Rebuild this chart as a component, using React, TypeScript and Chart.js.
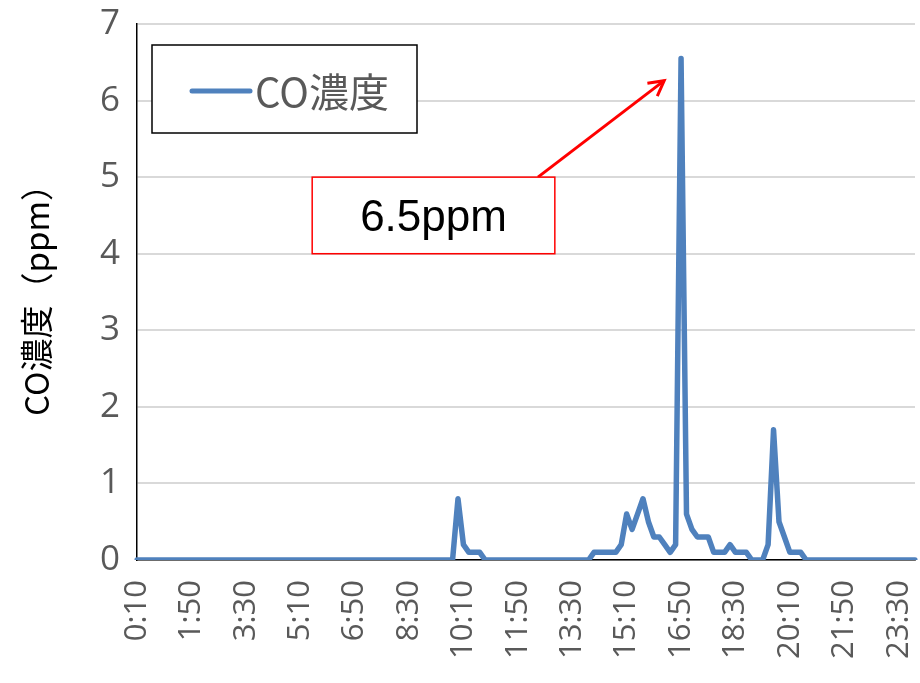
import React, { useEffect, useRef } from 'react';
import { Chart, registerables } from 'chart.js';

Chart.register(...registerables);

const seriesLabel = 'CO濃度';
const yAxisTitle = 'CO濃度（ppm）';
const annotationText = '6.5ppm';

// 10-minute readings, 0:10 .. 24:00 (144 points)
const coValues: number[] = [
  0, 0, 0, 0, 0, 0, 0, 0, 0, 0,
  0, 0, 0, 0, 0, 0, 0, 0, 0, 0,
  0, 0, 0, 0, 0, 0, 0, 0, 0, 0,
  0, 0, 0, 0, 0, 0, 0, 0, 0, 0,
  0, 0, 0, 0, 0, 0, 0, 0, 0, 0,
  0, 0, 0, 0, 0, 0, 0, 0, 0, 0.8,
  0.2, 0.1, 0.1, 0.1, 0, 0, 0, 0, 0, 0,
  0, 0, 0, 0, 0, 0, 0, 0, 0, 0,
  0, 0, 0, 0, 0.1, 0.1, 0.1, 0.1, 0.1, 0.2,
  0.6, 0.4, 0.6, 0.8, 0.5, 0.3, 0.3, 0.2, 0.1, 0.2,
  6.55, 0.6, 0.4, 0.3, 0.3, 0.3, 0.1, 0.1, 0.1, 0.2,
  0.1, 0.1, 0.1, 0, 0, 0, 0.2, 1.7, 0.5, 0.3,
  0.1, 0.1, 0.1, 0, 0, 0, 0, 0, 0, 0,
  0, 0, 0, 0, 0, 0, 0, 0, 0, 0,
  0, 0, 0, 0,
];

const timeLabels: string[] = coValues.map((_, i) => {
  const m = (i + 1) * 10;
  const h = Math.floor(m / 60) % 24;
  return `${h}:${String(m % 60).padStart(2, '0')}`;
});

const yMin = 0;
const yMax = 7;
const yStep = 1;

// annotation anchor points, in data units (category index, ppm)
const calloutBox = { x0: 32.2, x1: 76.8, y0: 5.0, y1: 4.0 };
const arrowFrom = { x: 73.7, y: 5.0 };
const arrowTo = { x: 96.9, y: 6.26 };

const lineColor = '#4f81bd';
const tickColor = '#595959';

const legendPlugin = {
  id: 'insideLegend',
  afterDatasetsDraw(chart: any) {
    const { ctx, chartArea } = chart;
    const ds = chart.data.datasets[0];
    const left = chartArea.left + 15;
    const top = chartArea.top + 21;
    const w = 265;
    const h = 88;
    ctx.save();
    ctx.fillStyle = '#ffffff';
    ctx.fillRect(left, top, w, h);
    ctx.strokeStyle = '#000000';
    ctx.lineWidth = 1.5;
    ctx.strokeRect(left, top, w, h);
    ctx.beginPath();
    ctx.strokeStyle = ds.borderColor;
    ctx.lineWidth = 5;
    ctx.lineCap = 'round';
    ctx.moveTo(left + 40, top + 46);
    ctx.lineTo(left + 98, top + 46);
    ctx.stroke();
    ctx.fillStyle = tickColor;
    ctx.font = '40px "Noto Sans CJK JP", "Noto Sans", sans-serif';
    ctx.textBaseline = 'middle';
    ctx.textAlign = 'left';
    ctx.fillText(ds.label, left + 103, top + 47);
    ctx.restore();
  },
};

const calloutPlugin = {
  id: 'callout',
  afterDatasetsDraw(chart: any) {
    const { ctx } = chart;
    const xs = chart.scales.x;
    const ys = chart.scales.y;
    const bx0 = xs.getPixelForValue(calloutBox.x0);
    const bx1 = xs.getPixelForValue(calloutBox.x1);
    const by0 = ys.getPixelForValue(calloutBox.y0);
    const by1 = ys.getPixelForValue(calloutBox.y1);
    const ax0 = xs.getPixelForValue(arrowFrom.x);
    const ay0 = ys.getPixelForValue(arrowFrom.y);
    const ax1 = xs.getPixelForValue(arrowTo.x);
    const ay1 = ys.getPixelForValue(arrowTo.y);
    ctx.save();
    ctx.strokeStyle = '#ff0000';
    ctx.lineWidth = 3;
    ctx.lineCap = 'butt';
    ctx.beginPath();
    ctx.moveTo(ax0, ay0);
    ctx.lineTo(ax1, ay1);
    ctx.stroke();
    const ang = Math.atan2(ay1 - ay0, ax1 - ax0);
    const head = 17;
    const spread = 0.5;
    ctx.beginPath();
    ctx.moveTo(ax1 - head * Math.cos(ang - spread), ay1 - head * Math.sin(ang - spread));
    ctx.lineTo(ax1, ay1);
    ctx.lineTo(ax1 - head * Math.cos(ang + spread), ay1 - head * Math.sin(ang + spread));
    ctx.lineJoin = 'miter';
    ctx.stroke();
    ctx.fillStyle = '#ffffff';
    ctx.fillRect(bx0, by0, bx1 - bx0, by1 - by0);
    ctx.strokeStyle = '#ff0000';
    ctx.lineWidth = 1.5;
    ctx.strokeRect(bx0, by0, bx1 - bx0, by1 - by0);
    ctx.fillStyle = '#000000';
    ctx.font = '44px "Liberation Sans", Arial, sans-serif';
    ctx.textAlign = 'center';
    ctx.textBaseline = 'middle';
    ctx.fillText(annotationText, (bx0 + bx1) / 2, (by0 + by1) / 2 + 3);
    ctx.restore();
  },
};

export default function App() {
  const canvasRef = useRef<HTMLCanvasElement | null>(null);

  useEffect(() => {
    if (!canvasRef.current) return;
    const chart = new Chart(canvasRef.current, {
      type: 'line',
      data: {
        labels: timeLabels,
        datasets: [
          {
            label: seriesLabel,
            data: coValues,
            borderColor: lineColor,
            backgroundColor: lineColor,
            borderWidth: 5.5,
            pointRadius: 0,
            pointHoverRadius: 0,
            tension: 0,
            borderJoinStyle: 'round',
            borderCapStyle: 'round',
          },
        ],
      },
      options: {
        responsive: false,
        animation: false,
        layout: { padding: { top: 24, right: 5, left: 0, bottom: 0 } },
        plugins: {
          legend: { display: false },
          tooltip: { enabled: false },
          title: { display: false },
        },
        scales: {
          x: {
            type: 'category',
            offset: false,
            grid: { display: false, drawTicks: false },
            border: { display: true, color: '#000000', width: 1.5 },
            ticks: {
              autoSkip: false,
              maxRotation: 90,
              minRotation: 90,
              padding: 20,
              color: tickColor,
              font: { family: '"Open Sans", "Noto Sans", sans-serif', size: 31 },
              callback: (_v: any, idx: number) => (idx % 10 === 0 ? timeLabels[idx] : null),
            },
            afterFit: (s: any) => {
              s.height = 123;
              s.paddingLeft = 0;
              s.paddingRight = 0;
            },
          },
          y: {
            min: yMin,
            max: yMax,
            grid: { color: '#d9d9d9', lineWidth: 2, drawTicks: false },
            border: { display: true, color: '#000000', width: 1.5 },
            ticks: {
              stepSize: yStep,
              padding: 17,
              color: tickColor,
              font: { family: '"Open Sans", "Noto Sans", sans-serif', size: 35 },
            },
            title: {
              display: true,
              text: yAxisTitle,
              color: '#000000',
              font: { family: '"Noto Sans CJK JP", "Noto Sans", sans-serif', size: 33 },
              padding: { top: 17, bottom: 0 },
            },
            afterFit: (s: any) => {
              s.width = 137;
              s.paddingTop = 0;
              s.paddingBottom = 0;
            },
          },
        },
      },
      plugins: [calloutPlugin, legendPlugin],
    });
    return () => chart.destroy();
  }, []);

  return (
    <div style={{ position: 'absolute', left: 0, top: 0, width: 920, height: 683, background: '#fff' }}>
      <canvas ref={canvasRef} width={920} height={683} />
    </div>
  );
}
